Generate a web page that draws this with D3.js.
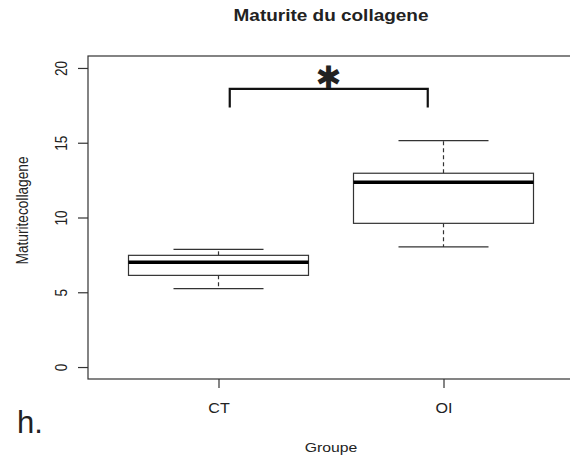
<!DOCTYPE html>
<html>
<head>
<meta charset="utf-8">
<script src="https://cdn.jsdelivr.net/npm/d3@7"></script>
<style>
  html, body { margin: 0; padding: 0; background: #fff; }
  svg { display: block; }
  text { font-family: "Liberation Sans", Arial, sans-serif; fill: #222; }
</style>
</head>
<body>
<svg id="chart" width="570" height="459"></svg>
<script>
// ---- data ----
const categories = ["CT", "OI"];
const whiskerLow  = [5.24, 8.03];
const q1          = [6.13, 9.61];
const median      = [7.00, 12.35];
const q3          = [7.47, 12.96];
const whiskerHigh = [7.87, 15.14];
const yTicks = [0, 5, 10, 15, 20];
const bracketX = [1.05, 1.93];
const bracketY = [17.35, 18.6];
const title = "Maturite du collagene";
const xLabel = "Groupe";
const yLabel = "Maturitecollagene";
const panelLetter = "h.";
const sigMark = "✱";

// ---- layout ----
const plotL = 88, plotR = 574, plotT = 56, plotB = 379;
const sx = 1.15; // horizontal stretch of the original image

const svg = d3.select("#chart");
const x = d3.scaleLinear().domain([0.42, 2.58]).range([plotL, plotR]);
const y = d3.scaleLinear().domain([-0.8, 20.8]).range([plotB, plotT]);

const boxHalf = 0.4, capHalf = 0.2;
const data = categories.map((c, i) => ({
  c, pos: i + 1, lo: whiskerLow[i], q1: q1[i], med: median[i], q3: q3[i], hi: whiskerHigh[i]
}));

// frame
svg.append("rect")
  .attr("x", plotL).attr("y", plotT)
  .attr("width", plotR - plotL).attr("height", plotB - plotT)
  .attr("fill", "none").attr("stroke", "#333").attr("stroke-width", 1.2);

// y axis
const yAxis = svg.append("g")
  .attr("transform", `translate(${plotL},0)`)
  .call(d3.axisLeft(y).tickValues(yTicks).tickSize(10).tickSizeOuter(0).tickFormat(d3.format("d")));
yAxis.select(".domain").remove();
yAxis.selectAll(".tick line").attr("stroke", "#333").attr("stroke-width", 1.2);
yAxis.selectAll(".tick text")
  .attr("x", 0).attr("dy", 0)
  .attr("text-anchor", "middle")
  .attr("transform", `translate(-21,0) scale(${sx},1) rotate(-90)`)
  .style("font-size", "13.7px")
  .style("font-family", "'Liberation Sans', Arial, sans-serif")
  .attr("fill", "#333");

// x axis
const xAxis = svg.append("g")
  .attr("transform", `translate(0,${plotB})`)
  .call(d3.axisBottom(x).tickValues(data.map(d => d.pos)).tickSize(9).tickSizeOuter(0)
        .tickFormat((d, i) => categories[i]));
xAxis.select(".domain").remove();
xAxis.selectAll(".tick line").attr("stroke", "#333").attr("stroke-width", 1.2);
xAxis.selectAll(".tick text")
  .attr("y", 0).attr("dy", 0)
  .attr("transform", `translate(0,34) scale(${sx},1)`)
  .style("font-size", "14px")
  .style("font-family", "'Liberation Sans', Arial, sans-serif")
  .attr("fill", "#222");

// boxes
const g = svg.append("g");
data.forEach(d => {
  const cx = x(d.pos);
  g.append("line").attr("x1", cx).attr("x2", cx).attr("y1", y(d.q3)).attr("y2", y(d.hi))
    .attr("stroke", "#333").attr("stroke-width", 1.2).attr("stroke-dasharray", "4,3");
  g.append("line").attr("x1", cx).attr("x2", cx).attr("y1", y(d.q1)).attr("y2", y(d.lo))
    .attr("stroke", "#333").attr("stroke-width", 1.2).attr("stroke-dasharray", "4,3");
  [d.lo, d.hi].forEach(v => {
    g.append("line").attr("x1", x(d.pos - capHalf)).attr("x2", x(d.pos + capHalf))
      .attr("y1", y(v)).attr("y2", y(v)).attr("stroke", "#333").attr("stroke-width", 1.2);
  });
  g.append("rect").attr("x", x(d.pos - boxHalf)).attr("y", y(d.q3))
    .attr("width", x(d.pos + boxHalf) - x(d.pos - boxHalf))
    .attr("height", y(d.q1) - y(d.q3))
    .attr("fill", "#fff").attr("stroke", "#333").attr("stroke-width", 1.2);
  g.append("line").attr("x1", x(d.pos - boxHalf)).attr("x2", x(d.pos + boxHalf))
    .attr("y1", y(d.med)).attr("y2", y(d.med)).attr("stroke", "#000").attr("stroke-width", 3.5);
});

// significance bracket
const bx0 = x(bracketX[0]), bx1 = x(bracketX[1]);
svg.append("path")
  .attr("d", `M${bx0},${y(bracketY[0])}V${y(bracketY[1])}H${bx1}V${y(bracketY[0])}`)
  .attr("fill", "none").attr("stroke", "#111").attr("stroke-width", 2.2);
svg.append("text")
  .attr("x", (bx0 + bx1) / 2).attr("y", y(bracketY[1]) - 1)
  .attr("text-anchor", "middle")
  .style("font-family", "'DejaVu Sans', sans-serif")
  .style("font-size", "31px").style("font-weight", "bold")
  .attr("fill", "#111")
  .text(sigMark);

// title
svg.append("text")
  .attr("transform", `translate(${(plotL + plotR) / 2},21) scale(${sx},1)`)
  .attr("text-anchor", "middle")
  .style("font-size", "16.5px").style("font-weight", "bold")
  .attr("fill", "#111")
  .text(title);

// x label
svg.append("text")
  .attr("transform", `translate(${(plotL + plotR) / 2},452) scale(${sx},1)`)
  .attr("text-anchor", "middle")
  .style("font-size", "13.7px")
  .text(xLabel);

// y label
svg.append("text")
  .attr("transform", `translate(28,${(plotT + plotB) / 2 - 7}) scale(${sx},1) rotate(-90)`)
  .attr("text-anchor", "middle")
  .style("font-size", "13.7px")
  .text(yLabel);

// panel letter
svg.append("text")
  .attr("x", 17).attr("y", 433)
  .style("font-size", "31px")
  .attr("fill", "#111")
  .text(panelLetter);
</script>
</body>
</html>
